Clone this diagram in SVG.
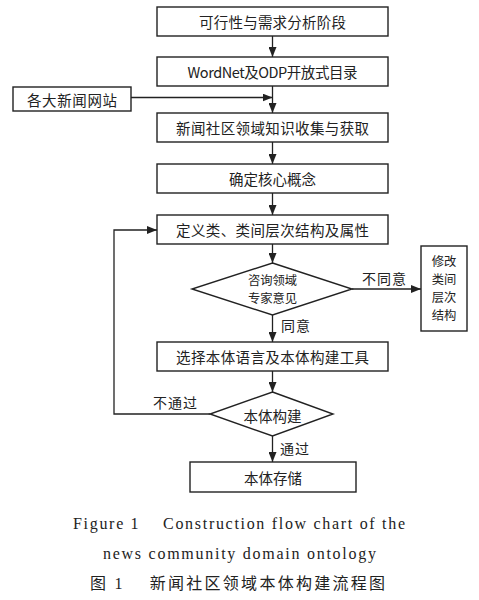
<svg xmlns="http://www.w3.org/2000/svg" width="479" height="600" viewBox="0 0 479 600">
<defs>
<marker id="ah" markerWidth="10" markerHeight="8" refX="10" refY="4" orient="auto" markerUnits="userSpaceOnUse">
<path d="M0,0 L10,4 L0,8 Z" fill="#222"/>
</marker>
<style>
.box{fill:#fff;stroke:#222;stroke-width:1.4}
.t{font-family:"Noto Sans CJK SC","Liberation Serif",serif;font-size:14.5px;fill:#222;text-anchor:middle;dominant-baseline:central}
.v{font-size:12.3px}
.lbl{font-family:"Noto Sans CJK SC",serif;font-size:14px;fill:#222;dominant-baseline:central}
.c{fill:none;stroke:#222;stroke-width:1.3}
.cap{font-family:"Liberation Serif",serif;font-size:16px;fill:#222;text-anchor:middle}
</style>
</defs>
<rect width="479" height="600" fill="#fff"/>
<g id="connectors">
<line class="c" x1="272.5" y1="36" x2="272.5" y2="57" marker-end="url(#ah)"/>
<line class="c" x1="272.5" y1="86" x2="272.5" y2="113" marker-end="url(#ah)"/>
<line class="c" x1="131" y1="97.5" x2="272.5" y2="97.5" marker-end="url(#ah)"/>
<line class="c" x1="272.5" y1="142" x2="272.5" y2="164" marker-end="url(#ah)"/>
<line class="c" x1="272.5" y1="193" x2="272.5" y2="215" marker-end="url(#ah)"/>
<line class="c" x1="272.5" y1="244" x2="272.5" y2="263" marker-end="url(#ah)"/>
<line class="c" x1="352" y1="289" x2="421" y2="289" marker-end="url(#ah)"/>
<line class="c" x1="272.5" y1="315" x2="272.5" y2="342" marker-end="url(#ah)"/>
<line class="c" x1="272.5" y1="371" x2="272.5" y2="392" marker-end="url(#ah)"/>
<polyline class="c" points="210,414 114,414 114,230 157,230" marker-end="url(#ah)"/>
<line class="c" x1="272.5" y1="436" x2="272.5" y2="462" marker-end="url(#ah)"/>
<text class="lbl" x="362" y="278" textLength="44">不同意</text>
<text class="lbl" x="281" y="325" textLength="29">同意</text>
<text class="lbl" x="153" y="402" textLength="44">不通过</text>
<text class="lbl" x="280" y="448" textLength="29">通过</text>
</g>
<g id="n1"><rect class="box" x="157" y="7" width="231" height="29"/><text class="t" x="272.5" y="21.5" textLength="147">可行性与需求分析阶段</text></g>
<g id="n2"><rect class="box" x="157" y="57" width="231" height="29"/><text class="t" x="272.5" y="71.5" textLength="170">WordNet及ODP开放式目录</text></g>
<g id="src"><rect class="box" x="13" y="87" width="118" height="24"/><text class="t" x="72" y="99" textLength="90">各大新闻网站</text></g>
<g id="n3"><rect class="box" x="157" y="113" width="231" height="29"/><text class="t" x="272.5" y="127.5" textLength="193">新闻社区领域知识收集与获取</text></g>
<g id="n4"><rect class="box" x="157" y="164" width="231" height="29"/><text class="t" x="272.5" y="178.5" textLength="87">确定核心概念</text></g>
<g id="n5"><rect class="box" x="157" y="215" width="231" height="29"/><text class="t" x="272.5" y="229.5" textLength="193">定义类、类间层次结构及属性</text></g>
<g id="d1"><polygon class="box" points="272.5,263 352,289 272.5,315 192,289"/><text class="t v"><tspan x="272.5" y="280">咨询领域</tspan><tspan x="272.5" y="298">专家意见</tspan></text></g>
<g id="n6"><rect class="box" x="421" y="246" width="46" height="85"/>
<text class="t v"><tspan x="444" y="261">修改</tspan><tspan x="444" y="279">类间</tspan><tspan x="444" y="297">层次</tspan><tspan x="444" y="315">结构</tspan></text></g>
<g id="n7"><rect class="box" x="157" y="342" width="231" height="29"/><text class="t" x="272.5" y="356.5" textLength="193">选择本体语言及本体构建工具</text></g>
<g id="d2"><polygon class="box" points="272.5,392 333,414 272.5,436 210,414"/><text class="t" x="272.5" y="415" textLength="58">本体构建</text></g>
<g id="n8"><rect class="box" x="190" y="462" width="166" height="30"/><text class="t" x="273" y="477" textLength="58">本体存储</text></g>
<g id="caption">
<text class="cap" x="239" y="529" textLength="332" xml:space="preserve">Figure 1    Construction flow chart of the</text>
<text class="cap" x="239.5" y="559" textLength="273">news community domain ontology</text>
<text class="cap" x="237.5" y="589" textLength="295" xml:space="preserve" style="font-family:'Liberation Serif','Noto Sans CJK SC',serif">图 1    新闻社区领域本体构建流程图</text>
</g>
</svg>
